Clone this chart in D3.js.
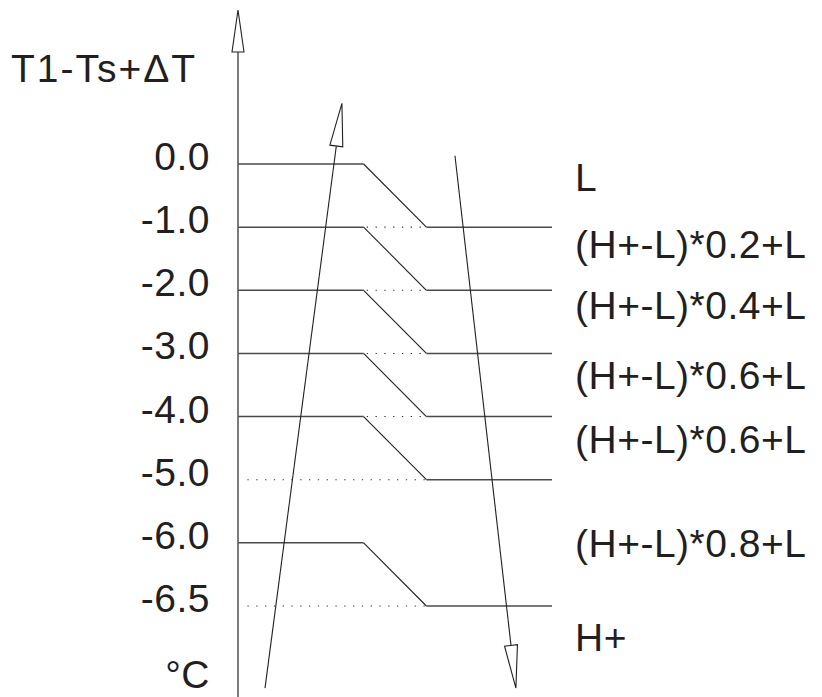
<!DOCTYPE html>
<html>
<head>
<meta charset="utf-8">
<script src="https://cdn.jsdelivr.net/npm/d3@7"></script>
<style>
	body { margin: 0; background: #fff; }
	text { font-family: 'Liberation Sans', Arial, sans-serif; fill: #231f20; }
</style>
</head>
<body>
<div id="graph"></div>
<script>
// levels on the vertical axis (top to bottom)
const levels = ['0.0', '-1.0', '-2.0', '-3.0', '-4.0', '-5.0', '-6.0', '-6.5'];

// each step drops from one level to the next one
const stepFrom = ['0.0', '-1.0', '-2.0', '-3.0', '-4.0', '-6.0'];
const stepTo = ['-1.0', '-2.0', '-3.0', '-4.0', '-5.0', '-6.5'];

// dotted continuations
const dottedShort = ['-1.0', '-2.0', '-3.0', '-4.0'];
const dottedLong = ['-5.0', '-6.5'];

// output labels on the right, one per band
const outLabels = ['L', '(H+-L)*0.2+L', '(H+-L)*0.4+L', '(H+-L)*0.6+L', '(H+-L)*0.6+L', '(H+-L)*0.8+L', 'H+'];
const outBands = [0.5, 1.5, 2.5, 3.5, 4.5, 6.5, 7.5];

// rising / falling arrows, in (x unit, level index)
const upArrow = [[8.6, 8.3], [33.1, -0.96]];
const downArrow = [[69.1, -0.13], [88.5, 8.3]];

const yAxisTitle = 'T1-Ts+\u0394T';
const unitLabel = '\u00b0C';

function drawChart() {
	const width = 822,
		height = 697;

	const x = d3.scaleLinear().domain([0, 100]).range([238, 552]);
	const yIdx = d3.scaleLinear().domain([0, levels.length - 1]).range([164, 606]);
	const y = (c) => yIdx(levels.indexOf(c));

	const svg = d3.select('#graph').append('svg').attr('width', width).attr('height', height);

	const ink = '#231f20';

	// horizontal lines, left part
	svg.selectAll('.left')
		.data(stepFrom)
		.enter()
		.append('line')
		.attr('x1', x(0))
		.attr('x2', x(40))
		.attr('y1', (d) => y(d))
		.attr('y2', (d) => y(d))
		.attr('stroke', '#4a4a4a')
		.attr('stroke-width', 1.5);

	// diagonals
	svg.selectAll('.diag')
		.data(stepFrom.map((d, i) => [d, stepTo[i]]))
		.enter()
		.append('line')
		.attr('x1', x(40))
		.attr('x2', x(60))
		.attr('y1', (d) => y(d[0]))
		.attr('y2', (d) => y(d[1]))
		.attr('stroke', ink)
		.attr('stroke-width', 1.1);

	// horizontal lines, right part
	svg.selectAll('.right')
		.data(stepTo)
		.enter()
		.append('line')
		.attr('x1', x(60))
		.attr('x2', x(100))
		.attr('y1', (d) => y(d))
		.attr('y2', (d) => y(d))
		.attr('stroke', '#4a4a4a')
		.attr('stroke-width', 1.5);

	// dotted continuations
	const dots = dottedShort.map((d) => ({ lv: d, from: 41 })).concat(dottedLong.map((d) => ({ lv: d, from: 3 })));
	svg.selectAll('.dot')
		.data(dots)
		.enter()
		.append('line')
		.attr('x1', (d) => x(d.from))
		.attr('x2', x(59.5))
		.attr('y1', (d) => y(d.lv))
		.attr('y2', (d) => y(d.lv))
		.attr('stroke', '#333')
		.attr('stroke-width', 1.1)
		.attr('stroke-dasharray', '1.3,7.5');

	// vertical axis with hollow arrow head
	svg.append('line')
		.attr('x1', x(0))
		.attr('x2', x(0))
		.attr('y1', height)
		.attr('y2', 52)
		.attr('stroke', '#5a5a5a')
		.attr('stroke-width', 1.6);

	function arrowHead(tip, tail, len, half) {
		const dx = tip[0] - tail[0],
			dy = tip[1] - tail[1],
			l = Math.sqrt(dx * dx + dy * dy),
			ux = dx / l,
			uy = dy / l;
		const bx = tip[0] - ux * len,
			by = tip[1] - uy * len;
		return [tip, [bx - uy * half, by + ux * half], [bx + uy * half, by - ux * half]];
	}

	const line = d3.line();

	svg.append('path')
		.attr('d', line(arrowHead([x(0), 10], [x(0), height], 42, 6)) + 'Z')
		.attr('fill', '#fff')
		.attr('stroke', ink)
		.attr('stroke-width', 1.1);

	// rising and falling arrows
	[upArrow, downArrow].forEach((a) => {
		const tail = [x(a[0][0]), yIdx(a[0][1])],
			tip = [x(a[1][0]), yIdx(a[1][1])];
		const head = arrowHead(tip, tail, 43, 6.5);
		const bx = (head[1][0] + head[2][0]) / 2,
			by = (head[1][1] + head[2][1]) / 2;
		svg.append('path')
			.attr('d', line([tail, [bx, by]]))
			.attr('stroke', ink)
			.attr('stroke-width', 1.1)
			.attr('fill', 'none');
		svg.append('path')
			.attr('d', line(head) + 'Z')
			.attr('fill', '#fff')
			.attr('stroke', ink)
			.attr('stroke-width', 1.1);
	});

	const font = 39,
		spacing = 0.5;

	// level labels
	svg.selectAll('.lvl')
		.data(levels)
		.enter()
		.append('text')
		.attr('x', 210)
		.attr('y', (d) => y(d) + 6)
		.attr('text-anchor', 'end')
		.style('font-size', font + 'px')
		.style('letter-spacing', spacing + 'px')
		.text((d) => d);

	svg.append('text')
		.attr('x', 11)
		.attr('y', 82)
		.style('font-size', font + 'px')
		.style('letter-spacing', '2px')
		.text(yAxisTitle);

	svg.append('text')
		.attr('x', 210)
		.attr('y', 688)
		.attr('text-anchor', 'end')
		.style('font-size', font + 'px')
		.style('letter-spacing', spacing + 'px')
		.text(unitLabel);

	// output labels
	const nudge = [-5, -1, -3, 4, 5, -17, 13];
	svg.selectAll('.out')
		.data(outLabels)
		.enter()
		.append('text')
		.attr('x', 575)
		.attr('y', (d, i) => yIdx(outBands[i]) + nudge[i])
		.style('font-size', font + 'px')
		.style('letter-spacing', spacing + 'px')
		.text((d) => d);
}

drawChart();
</script>
</body>
</html>
